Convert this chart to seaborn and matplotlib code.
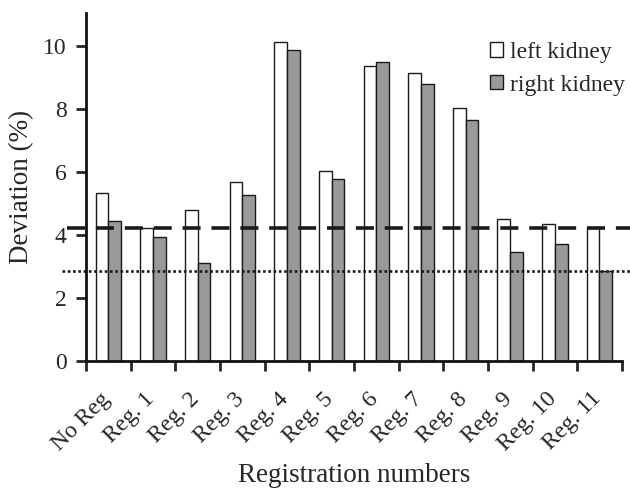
import matplotlib
matplotlib.use("Agg")
import matplotlib.pyplot as plt
import matplotlib.transforms as mtransforms
import pandas as pd
import seaborn as sns

registrations = ["No Reg", "Reg. 1", "Reg. 2", "Reg. 3", "Reg. 4", "Reg. 5",
                 "Reg. 6", "Reg. 7", "Reg. 8", "Reg. 9", "Reg. 10", "Reg. 11"]
left_kidney = [5.34, 4.21, 4.78, 5.68, 10.14, 6.02, 9.38, 9.16, 8.04, 4.52, 4.35, 4.22]
right_kidney = [4.44, 3.93, 3.10, 5.26, 9.89, 5.77, 9.50, 8.81, 7.66, 3.45, 3.70, 2.86]
dashed_level = 4.23
dotted_level = 2.86

df = pd.DataFrame({
    "registration": registrations * 2,
    "deviation": left_kidney + right_kidney,
    "kidney": ["left kidney"] * len(registrations) + ["right kidney"] * len(registrations),
})

sns.set_style("ticks")
plt.rcParams["font.family"] = ["Liberation Serif", "DejaVu Serif"]

fig = plt.figure(figsize=(6.3, 4.93), dpi=100)
ax = fig.add_axes([0.1365, 0.2677, 0.8505, 0.7059])

sns.barplot(data=df, x="registration", y="deviation", hue="kidney",
            order=registrations, palette=["white", "#999999"],
            edgecolor="#1a1a1a", linewidth=1.0, width=0.57, saturation=1, ax=ax)

# reference levels run past the axes on both sides
trans = mtransforms.blended_transform_factory(ax.transAxes, ax.transData)
ax.plot([-0.035, 1.02], [dashed_level] * 2, transform=trans, clip_on=False,
        color="#1a1a1a", lw=2.6, dashes=(5, 3))
ax.plot([-0.045, 1.02], [dotted_level] * 2, transform=trans, clip_on=False,
        color="#1a1a1a", lw=1.9, dashes=(1.0, 1.0))

ax.set_xlim(-0.5, len(registrations) - 0.5)
ax.set_ylim(0, 11.05)
ax.set_yticks([0, 2, 4, 6, 8, 10])
ax.set_xticks(range(len(registrations)))
ax.set_xticklabels(registrations, rotation=45, ha="right", rotation_mode="anchor")
ax.set_xticks([i - 0.5 for i in range(len(registrations) + 1)], minor=True)
ax.tick_params(axis="x", which="major", length=0, pad=16, labelsize=17)
ax.tick_params(axis="x", which="minor", length=7, width=2, direction="out")
ax.tick_params(axis="y", length=7, width=2, pad=7, labelsize=17)

shift = mtransforms.ScaledTranslation(-0.09, -0.05, fig.dpi_scale_trans)
for lab in ax.get_xticklabels():
    lab.set_transform(lab.get_transform() + shift)

for side in ["top", "right"]:
    ax.spines[side].set_visible(False)
for side in ["left", "bottom"]:
    ax.spines[side].set_linewidth(2)
    ax.spines[side].set_color("#111111")

ax.set_xlabel("Registration numbers", fontsize=19.5, labelpad=6)
ax.set_ylabel("Deviation (%)", fontsize=19.5, labelpad=6)

leg = ax.legend(loc="upper right", bbox_to_anchor=(1.0056, 0.917), frameon=False,
                fontsize=17, handlelength=0.55, handleheight=0.55,
                handletextpad=0.3, labelspacing=0.5, borderpad=0, borderaxespad=0)
leg.set_title(None)

fig.savefig("out.png", dpi=100)
